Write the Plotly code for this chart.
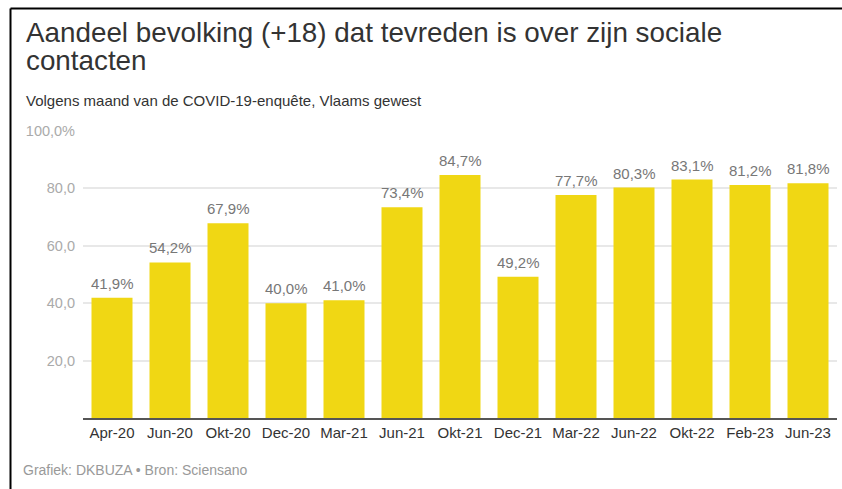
import plotly.graph_objects as go

# Survey waves and share of adults satisfied with their social contacts (%)
months = ["Apr-20", "Jun-20", "Okt-20", "Dec-20", "Mar-21", "Jun-21", "Okt-21",
          "Dec-21", "Mar-22", "Jun-22", "Okt-22", "Feb-23", "Jun-23"]
shares = [41.9, 54.2, 67.9, 40.0, 41.0, 73.4, 84.7, 49.2, 77.7, 80.3, 83.1, 81.2, 81.8]

y_ticks = [20, 40, 60, 80, 100]
y_tick_labels = ["20,0", "40,0", "60,0", "80,0", "100,0%"]

title_lines = ["Aandeel bevolking (+18) dat tevreden is over zijn sociale", "contacten"]
subtitle = "Volgens maand van de COVID-19-enquête, Vlaams gewest"
footer = "Grafiek: DKBUZA • Bron: Sciensano"

FONT = "Liberation Sans, Arial, Helvetica, sans-serif"
W, H = 842, 489
ML, MR, MT, MB = 83, 5, 131, 71
PW, PH = W - ML - MR, H - MT - MB


def px_x(px):
    return (px - ML) / PW


def px_y(py):
    return (H - MB - py) / PH


fig = go.Figure()
fig.add_trace(go.Bar(
    x=months,
    y=shares,
    marker=dict(color="#F0D714", line=dict(width=0)),
    hoverinfo="skip",
))

annotations = []
# Value labels sitting just above each bar
for m, v in zip(months, shares):
    annotations.append(dict(
        text=f"{v:.1f}%".replace(".", ","), x=m, y=v, xref="x", yref="y",
        xanchor="center", yanchor="bottom", yshift=4, showarrow=False,
        font=dict(family=FONT, size=15, color="#777777"),
    ))
for i, line in enumerate(title_lines):
    annotations.append(dict(
        text=line, xref="paper", yref="paper",
        x=px_x(24), y=px_y(43 + 28 * i), xanchor="left", yanchor="bottom",
        showarrow=False, font=dict(family=FONT, size=27.8, color="#333333"),
        yshift=-7,
    ))
annotations.append(dict(
    text=subtitle, xref="paper", yref="paper",
    x=px_x(24), y=px_y(100), xanchor="left", yanchor="middle",
    showarrow=False, font=dict(family=FONT, size=15, color="#333333"),
))
annotations.append(dict(
    text=footer, xref="paper", yref="paper",
    x=px_x(21), y=px_y(470), xanchor="left", yanchor="middle",
    showarrow=False, font=dict(family=FONT, size=14, color="#999999"),
))

# Frame along the top and left edges
shapes = [
    dict(type="line", xref="paper", yref="paper",
         x0=px_x(10.5), x1=px_x(W + 2), y0=px_y(8.5), y1=px_y(8.5),
         line=dict(color="#000000", width=2)),
    dict(type="line", xref="paper", yref="paper",
         x0=px_x(10.5), x1=px_x(10.5), y0=px_y(8.5), y1=px_y(H + 2),
         line=dict(color="#000000", width=2)),
]

fig.update_layout(
    width=W, height=H,
    margin=dict(l=ML, r=MR, t=MT, b=MB),
    paper_bgcolor="white", plot_bgcolor="white",
    bargap=0.293,
    showlegend=False,
    font=dict(family=FONT),
    annotations=annotations,
    shapes=shapes,
    xaxis=dict(
        range=[-0.5, len(months) - 0.5],
        showgrid=False, showline=True, linecolor="#555555", linewidth=1.5,
        ticks="", tickfont=dict(family=FONT, size=15, color="#333333"),
        fixedrange=True,
    ),
    yaxis=dict(
        range=[0, 100],
        tickvals=y_ticks, ticktext=y_tick_labels,
        showgrid=True, gridcolor="#E8E8E8", gridwidth=1.5,
        zeroline=False, showline=False, ticks="",
        ticklabelstandoff=7,
        tickfont=dict(family=FONT, size=14.5, color="#AAAAAA"),
        fixedrange=True,
    ),
)

fig.write_html("out.html")
